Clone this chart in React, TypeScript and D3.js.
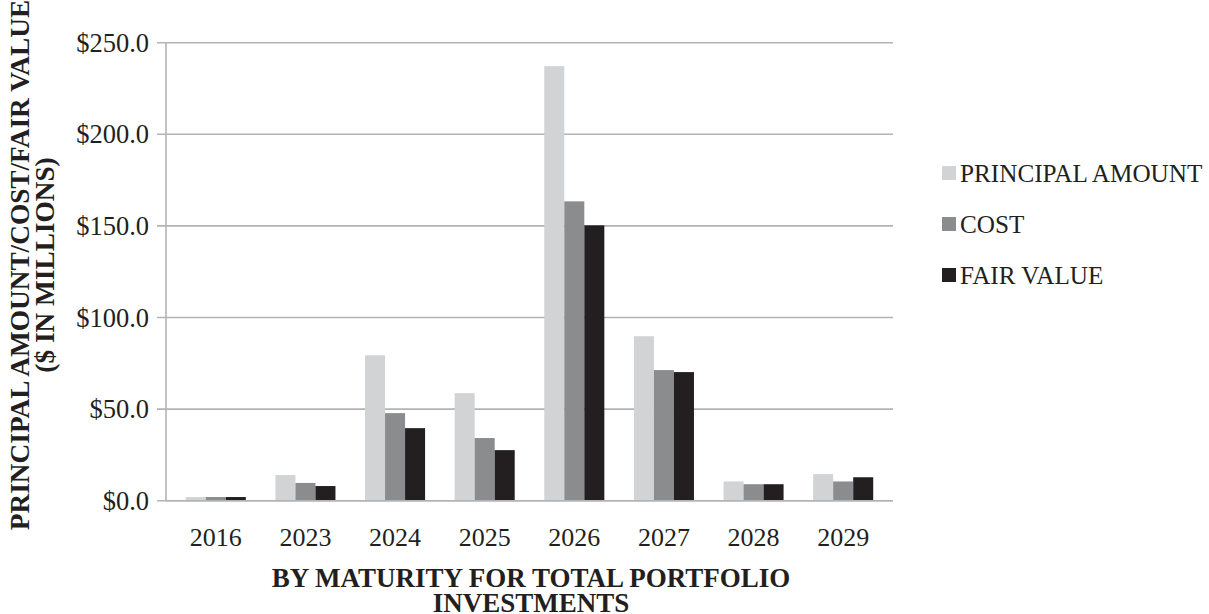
import * as React from 'react';
import * as d3 from 'd3';

const years = ["2016", "2023", "2024", "2025", "2026", "2027", "2028", "2029"];
const principal = [2.0, 14.0, 79.4, 58.7, 237.2, 89.8, 10.5, 14.5];
const cost = [2.0, 9.7, 47.8, 34.2, 163.4, 71.3, 9.0, 10.5];
const fairValue = [2.0, 8.0, 39.6, 27.6, 150.3, 70.2, 9.0, 12.8];
const seriesNames = ["PRINCIPAL AMOUNT", "COST", "FAIR VALUE"];
const yTicks = [0, 50, 100, 150, 200, 250];

const colors = ["#d1d3d4", "#8a8c8e", "#231f20"];
const serif = "'Liberation Serif', 'Times New Roman', serif";

export default function App() {
    const width = 1209, height = 614;
    const left = 166, right = 893;
    const series = [principal, cost, fairValue];

    const x = d3.scaleBand<string>()
        .domain(years)
        .range([171, 888])
        .paddingInner(0.33)
        .paddingOuter(0.165);
    const sub = d3.scaleBand<number>()
        .domain([0, 1, 2])
        .range([0, x.bandwidth()]);
    const y = d3.scaleLinear().domain([0, 250]).range([500.7, 42.7]);
    const fmt = (v: number) => "$" + d3.format(".1f")(v);

    return (
        <svg width={width} height={height} style={{display: "block", position: "absolute", left: 0, top: 0}}
             fontFamily={serif}>
            <rect width={width} height={height} fill="#ffffff"/>
            {/* gridlines and ticks */}
            {yTicks.map(t => (
                <g key={t}>
                    <line x1={157} x2={right} y1={y(t)} y2={y(t)} stroke="#b3b3b3" strokeWidth={1.6}/>
                    <text x={149} y={y(t)} dy="0.34em" textAnchor="end" fontSize={26.5} fill="#231f20">{fmt(t)}</text>
                </g>
            ))}
            <line x1={left} x2={left} y1={y(250)} y2={y(0)} stroke="#b3b3b3" strokeWidth={1.6}/>

            {/* bars */}
            {years.map((yr, i) => (
                <g key={yr} transform={`translate(${x(yr)},0)`}>
                    {series.map((s, j) => (
                        <rect key={j} x={sub(j)} width={sub.bandwidth()} y={y(s[i])}
                              height={y(0) - y(s[i])} fill={colors[j]}/>
                    ))}
                </g>
            ))}
            <line x1={left} x2={right} y1={y(0)} y2={y(0)} stroke="#b3b3b3" strokeWidth={1.6}/>

            {/* x tick labels */}
            {years.map(yr => (
                <text key={yr} x={(x(yr) as number) + x.bandwidth() / 2} y={546} textAnchor="middle"
                      fontSize={26} fill="#231f20">{yr}</text>
            ))}

            {/* axis titles */}
            <text x={531} y={587} textAnchor="middle" fontSize={27} fontWeight="bold" fill="#231f20">
                BY MATURITY FOR TOTAL PORTFOLIO
            </text>
            <text x={531} y={612} textAnchor="middle" fontSize={27} fontWeight="bold" fill="#231f20">
                INVESTMENTS
            </text>
            <g transform="translate(29,265) rotate(-90)">
                <text x={0} y={0} textAnchor="middle" fontSize={27.3} fontWeight="bold" fill="#231f20">
                    PRINCIPAL AMOUNT/COST/FAIR VALUE
                </text>
                <text x={0} y={25} textAnchor="middle" fontSize={27.3} fontWeight="bold" fill="#231f20">
                    ($ IN MILLIONS)
                </text>
            </g>

            {/* legend */}
            {seriesNames.map((name, j) => (
                <g key={name} transform={`translate(942,${173 + j * 51})`}>
                    <rect x={0} y={-7} width={14} height={14} fill={colors[j]}/>
                    <text x={18} y={0} dy="0.35em" fontSize={25.2} fill="#231f20">{name}</text>
                </g>
            ))}
        </svg>
    );
}
